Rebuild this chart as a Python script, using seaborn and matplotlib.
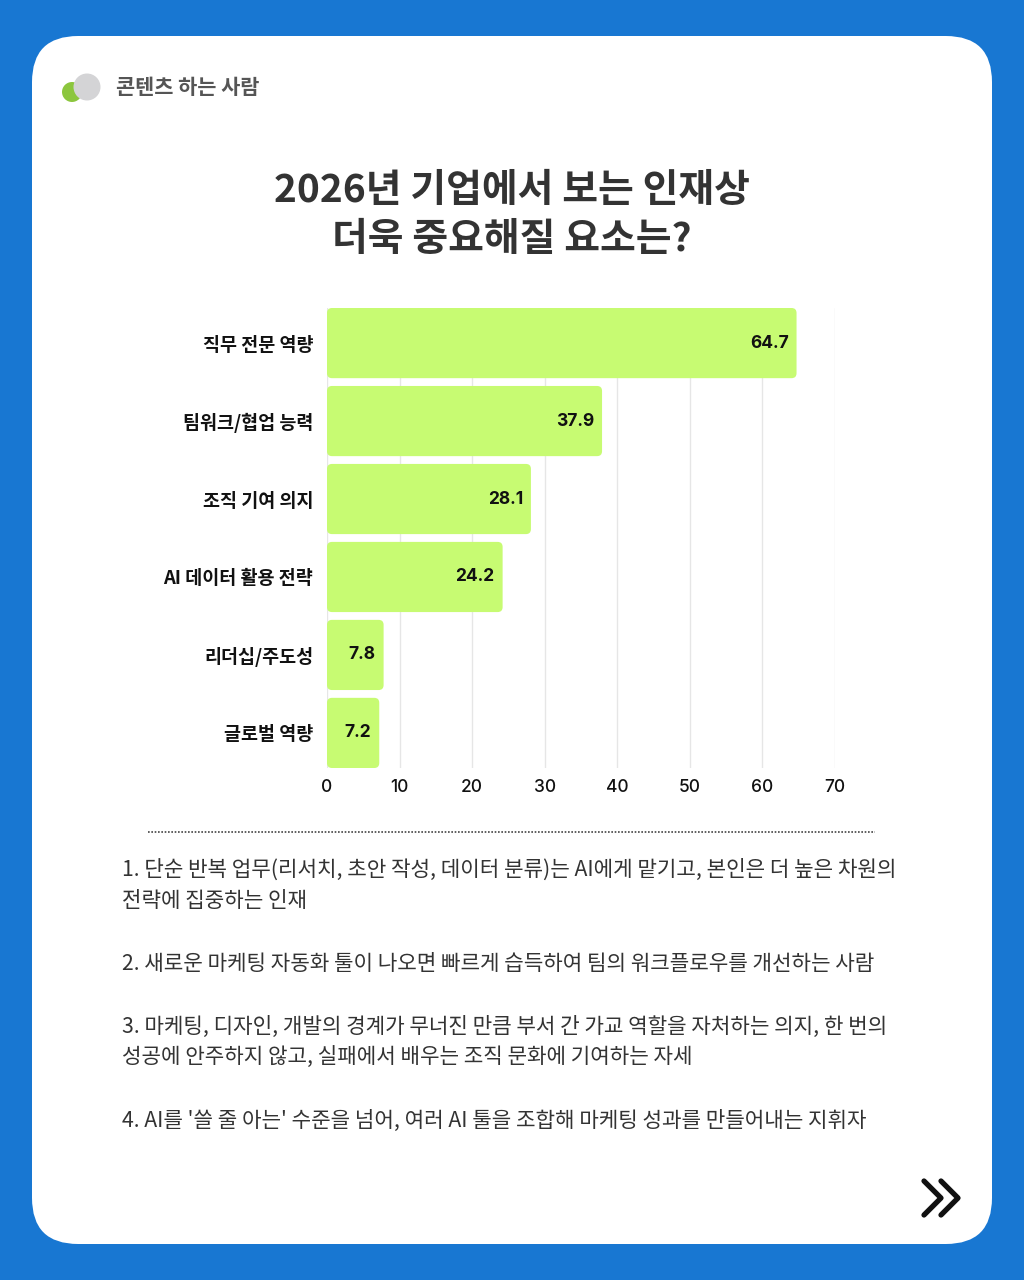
import matplotlib
matplotlib.use("Agg")
import matplotlib.pyplot as plt
import seaborn as sns
import pandas as pd
from matplotlib.patches import FancyBboxPatch, Ellipse
from matplotlib.lines import Line2D

# ---- data ----
categories = ["직무 전문 역량", "팀워크/협업 능력", "조직 기여 의지", "AI 데이터 활용 전략", "리더십/주도성", "글로벌 역량"]
values = [64.7, 37.9, 28.1, 24.2, 7.8, 7.2]
x_ticks = [0, 10, 20, 30, 40, 50, 60, 70]
header_text = "콘텐츠 하는 사람"
title_text = "2026년 기업에서 보는 인재상\n더욱 중요해질 요소는?"
notes = [
    ["1. 단순 반복 업무(리서치, 초안 작성, 데이터 분류)는 AI에게 맡기고, 본인은 더 높은 차원의",
     "전략에 집중하는 인재"],
    ["2. 새로운 마케팅 자동화 툴이 나오면 빠르게 습득하여 팀의 워크플로우를 개선하는 사람"],
    ["3. 마케팅, 디자인, 개발의 경계가 무너진 만큼 부서 간 가교 역할을 자처하는 의지, 한 번의",
     "성공에 안주하지 않고, 실패에서 배우는 조직 문화에 기여하는 자세"],
    ["4. AI를 '쓸 줄 아는' 수준을 넘어, 여러 AI 툴을 조합해 마케팅 성과를 만들어내는 지휘자"],
]

sns.set_theme(style="white")
plt.rcParams['font.family'] = ['Noto Sans CJK KR', 'DejaVu Sans']

W, H = 1024, 1280
fig = plt.figure(figsize=(W / 100, H / 100), dpi=100)
fig.patch.set_facecolor("#1877d2")

def fx(x):
    return x / W

def fy(y):
    return 1 - y / H

# white rounded card
card = FancyBboxPatch((fx(32), fy(1244)), fx(992) - fx(32), fy(36) - fy(1244),
                      boxstyle="round,pad=0,rounding_size=0.045",
                      mutation_aspect=W / H,
                      transform=fig.transFigure, facecolor="white", edgecolor="none", zorder=0)
fig.add_artist(card)

# logo
fig.add_artist(Ellipse((fx(72), fy(92)), 20 / W, 20 / H, transform=fig.transFigure,
                       facecolor="#8cc63e", edgecolor="none", zorder=1))
fig.add_artist(Ellipse((fx(87), fy(87)), 27 / W, 27 / H, transform=fig.transFigure,
                       facecolor="#d4d4d6", edgecolor="none", zorder=2))
fig.text(fx(116), fy(88), header_text, fontsize=15, fontweight="bold", color="#555555",
         ha="left", va="center")

# title
fig.text(0.5, fy(215), title_text, fontsize=28, fontweight="bold", color="#333333",
         ha="center", va="center", linespacing=1.3)

# chart
df = pd.DataFrame({"category": categories, "value": values})
ax = fig.add_axes([fx(327), fy(768), fx(835) - fx(327), (768 - 308) / H])
sns.barplot(data=df, x="value", y="category", color="#c7fb72", width=0.9,
            saturation=1, ax=ax, zorder=3)
ax.set_xlim(0, 70)
ax.set_ylim(len(categories) - 0.55, -0.45)
ax.set_xticks(x_ticks)
ax.set_xticklabels([str(t) for t in x_ticks], fontsize=12.5, fontweight="medium",
                   color="#111111", family=["Inter", "DejaVu Sans"])
ax.set_xlabel("")
ax.set_ylabel("")
ax.tick_params(axis="both", length=0)
ax.tick_params(axis="x", pad=8)
ax.tick_params(axis="y", pad=10)
for lbl in ax.get_yticklabels():
    lbl.set_fontsize(13.3)
    lbl.set_fontweight("bold")
    lbl.set_color("#111111")
for s in ax.spines.values():
    s.set_visible(False)
ax.set_facecolor("none")
ax.xaxis.grid(True, color="#e6e6e6", linewidth=1)
ax.set_axisbelow(True)

# rounded bars
px_x = (835 - 327) / 70.0
px_y = 78.0
r_px = 5.0
for bar in list(ax.patches):
    x0, y0 = bar.get_x(), bar.get_y()
    w, h = bar.get_width(), bar.get_height()
    rb = FancyBboxPatch((x0, y0), w, h,
                        boxstyle=f"round,pad=0,rounding_size={r_px / px_x}",
                        mutation_aspect=px_x / px_y,
                        facecolor=bar.get_facecolor(), edgecolor="none", zorder=3)
    bar.set_visible(False)
    ax.add_patch(rb)

for i, v in enumerate(values):
    ax.annotate(f"{v}", xy=(v, i), xytext=(-8, 0), textcoords="offset pixels",
                ha="right", va="center", fontsize=12.5, fontweight="bold",
                color="#111111", family=["Inter", "DejaVu Sans"], zorder=4)

# dotted separator
fig.add_artist(Line2D([fx(148), fx(875)], [fy(832), fy(832)], transform=fig.transFigure,
                      color="#444444", linestyle=(0, (1, 1)), linewidth=1.2))

# notes
y = 870
for para in notes:
    for line in para:
        fig.text(fx(122), fy(y), line, fontsize=15.3, color="#333333", ha="left", va="center")
        y += 31
    y += 32

# chevron
for dx in (0, 17):
    fig.add_artist(Line2D([fx(924 + dx), fx(941 + dx), fx(924 + dx)],
                          [fy(1181), fy(1198), fy(1215)], transform=fig.transFigure,
                          color="#111111", linewidth=3.8, solid_capstyle="round",
                          solid_joinstyle="round"))

fig.savefig("out.png", dpi=100, facecolor=fig.get_facecolor())
